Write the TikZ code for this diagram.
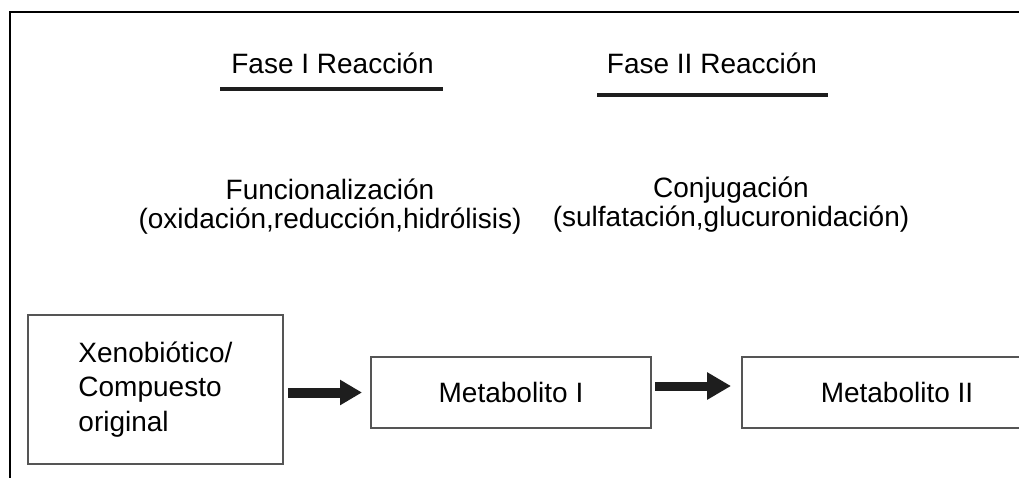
\documentclass[tikz,border=0pt]{standalone}
\usepackage{fontspec}
\setmainfont{Liberation Sans}
\usetikzlibrary{arrows.meta}
\definecolor{boxgray}{HTML}{555555}
\definecolor{arrowblack}{HTML}{1E1E1E}
\begin{document}
\begin{tikzpicture}[x=1pt,y=-1pt,
  lbl/.style={font=\fontsize{28}{29}\selectfont, inner sep=0pt},
  box/.style={draw=boxgray, line width=2pt, inner sep=0pt, font=\fontsize{28}{34.5}\selectfont},
  fatA/.style={line width=10pt, draw=arrowblack, -{Triangle[length=22pt,width=24pt]}},
  fatB/.style={line width=9pt, draw=arrowblack, -{Triangle[length=24pt,width=26pt]}},
  rulebar/.style={line width=4pt, draw=arrowblack}]
\clip (0,0) rectangle (1019,477);
\fill[white] (0,0) rectangle (1019,477);
\draw[line width=2pt] (10,490) -- (10,12) -- (1030,12);

\node[lbl, anchor=base] (f1) at (332.5,73) {Fase I Reacción};
\node[lbl, anchor=base] (f2) at (712,73) {Fase II Reacción};
\draw[rulebar] (220,89) -- (443,89);
\draw[rulebar] (597,95) -- (828,95);

\node[lbl, anchor=base, align=center] (d1) at (330,228) {Funcionalización\\(oxidación,reducción,hidrólisis)};
\node[lbl, anchor=base, align=center] (d2) at (731,226) {Conjugación\\(sulfatación,glucuronidación)};

\node[box, minimum width=255pt, minimum height=149pt, align=left] (b1) at (155.5,389.5) {Xenobiótico/\\Compuesto\\original};
\node[box, minimum width=280pt, minimum height=71pt] (b2) at (511,392.5) {Metabolito I};
\node[box, minimum width=310pt, minimum height=71pt] (b3) at (897,392.5) {Metabolito II};

\draw[fatA, shorten <=4pt, shorten >=8pt] (b1.east |- b2.west) -- (b2.west);
\draw[fatB, shorten <=3pt, shorten >=10pt] ([yshift=6.5pt]b2.east) -- ([yshift=6.5pt]b3.west);
\end{tikzpicture}
\end{document}
